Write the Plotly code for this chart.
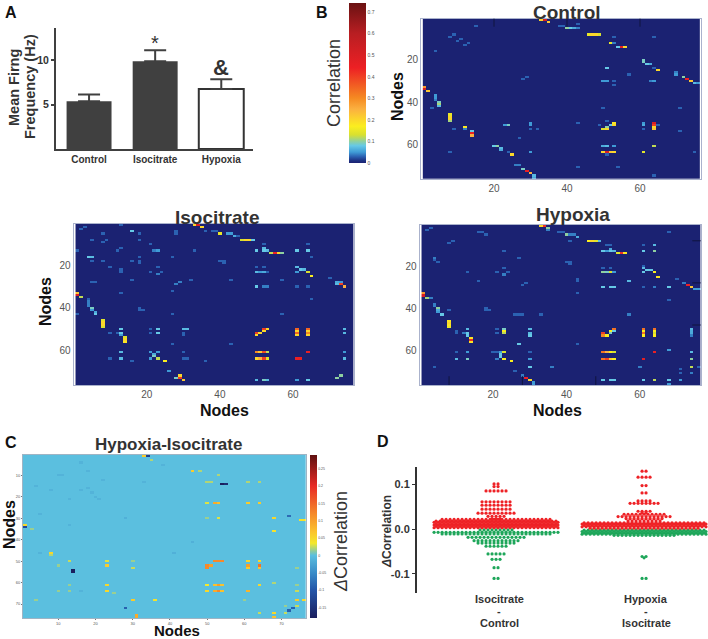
import plotly.graph_objects as go

# panel A
conditions = ["Control", "Isocitrate", "Hypoxia"]
firing_rate = [5.37, 9.85, 6.75]
firing_err = [0.75, 1.25, 1.1]

# panels B and C, cells are (x node, y node, value), everything else is 0
control_cells = [
    (33,1,.2),(34,1,.5),(35,2,.22),(15,4,.03),(38,4,.03),(39,4,.03),(40,5,.1),(41,5,.08),(42,5,.06),(43,5,.04),
    (43,3,.03),(46,8,.15),(47,8,.2),(48,8,.2),(49,8,.13),(8,9,.03),(9,8,.03),(10,11,.03),(11,10,.03),(12,13,.03),
    (13,12,.03),(4,16,.03),(53,9,.03),(64,9,.03),(52,12,.15),(53,12,.04),(54,14,.08),(55,14,.45),(56,14,.2),
    (1,33,.28),(1,34,.5),(2,35,.22),(4,37,.05),(4,38,.05),(4,39,.04),(5,40,.09),(5,41,.11),(5,42,.07),(3,43,.03),
    (8,46,.15),(8,47,.2),(8,48,.2),(8,49,.11),(9,53,.03),(12,52,.18),(12,53,.04),(14,54,.08),(14,55,.45),(14,56,.25),
    (23,51,.05),(24,51,.09),(30,50,.05),(30,51,.05),(30,53,.03),(32,53,.03),(27,57,.03),(20,61,.08),(21,61,.1),
    (22,62,.07),(22,63,.06),(8,64,.03),(24,64,.03),(25,65,.2),(26,70,.04),(27,70,.04),(28,72,.09),(29,73,.45),
    (30,74,.25),(31,75,.07),(31,76,.06),(30,64,.05),(28,29,.03),(29,28,.03),(50,30,.05),(51,30,.05),(51,24,.08),
    (53,30,.03),(53,32,.03),(63,30,.04),(64,30,.05),(57,27,.03),(61,20,.09),(61,21,.09),(62,22,.08),(63,22,.06),
    (64,24,.03),(65,25,.2),(70,26,.04),(70,27,.05),(72,28,.1),(73,29,.45),(74,30,.22),(75,31,.07),(76,31,.05),
    (50,43,.03),(71,43,.03),(71,54,.03),(43,50,.03),(49,51,.03),(51,49,.03),(50,53,.13),(51,53,.2),(51,52,.1),
    (52,51,.08),(53,50,.18),(53,51,.2),(61,50,.05),(61,51,.06),(61,53,.03),(64,50,.5),(64,51,.4),(64,52,.2),
    (64,53,.22),(65,51,.03),(50,61,.06),(51,61,.07),(53,61,.05),(64,61,.12),(50,64,.2),(51,64,.5),(52,64,.22),
    (53,64,.2),(51,65,.03),(61,64,.14),(43,71,.03),(54,71,.03),(64,75,.03),(75,64,.03),
]
isocitrate_cells = [
    (33,1,.2),(34,1,.5),(35,2,.2),(2,3,.03),(3,2,.03),(13,1,.03),(8,5,.03),(16,4,.08),(18,5,.03),(28,4,.03),(28,5,.03),
    (36,4,.03),(38,4,.03),(39,4,.03),(40,5,.15),(42,5,.05),(43,5,.05),(44,6,.06),(45,6,.03),(46,8,.13),(47,8,.2),
    (48,8,.2),(49,8,.08),(5,8,.03),(8,9,.03),(9,8,.03),(18,8,.03),(1,13,.03),(12,13,.03),(13,12,.03),(21,10,.03),
    (22,13,.04),(23,13,.05),(33,13,.03),(50,13,.08),(52,10,.03),(52,12,.07),(52,13,.08),(53,13,.07),(54,14,.12),
    (55,14,.44),(56,14,.2),(57,14,.1),(61,13,.08),(64,13,.08),(64,10,.03),(4,16,.08),(5,16,.07),(5,18,.03),(8,18,.03),
    (16,18,.03),(18,16,.03),(18,18,.03),(18,19,.03),(27,16,.03),(40,18,.03),(41,18,.03),(41,19,.03),(65,16,.03),
    (10,21,.03),(13,22,.03),(13,23,.03),(21,23,.03),(23,21,.03),(23,24,.04),(24,23,.03),(50,21,.03),(50,23,.07),
    (51,23,.05),(52,21,.03),(52,23,.06),(53,23,.03),(61,21,.07),(61,23,.05),(62,22,.08),(63,22,.07),(64,23,.13),
    (65,25,.17),(16,27,.03),(5,28,.03),(6,28,.03),(32,27,.03),(43,27,.03),(57,27,.03),(70,26,.03),(28,29,.04),
    (29,28,.04),(50,30,.08),(52,30,.04),(53,30,.04),(61,30,.03),(64,30,.03),(72,28,.06),(72,29,.07),(73,28,.05),
    (73,29,.4),(74,30,.25),(27,32,.03),(13,33,.03),(1,33,.22),(1,34,.5),(2,35,.12),(4,36,.03),(4,37,.04),(4,38,.04),
    (4,39,.04),(65,36,.03),(5,40,.09),(5,41,.05),(6,42,.06),(6,43,.08),(18,40,.03),(18,41,.03),(19,41,.03),(1,43,.03),
    (27,43,.03),(57,43,.03),(8,46,.14),(8,47,.2),(8,48,.2),(8,49,.13),(10,52,.03),(12,52,.03),(13,50,.08),(13,52,.08),
    (13,53,.05),(14,54,.14),(14,55,.2),(14,56,.18),(21,50,.03),(21,52,.03),(23,50,.08),(23,52,.08),(30,50,.07),
    (31,50,.07),(30,52,.03),(30,53,.03),(50,53,.2),(50,52,.4),(51,52,.2),(52,51,.2),(52,50,.4),(53,50,.2),
    (61,50,.35),(61,51,.2),(61,52,.35),(61,53,.2),(64,50,.35),(64,51,.2),(64,52,.3),(64,53,.2),(74,50,.07),(74,52,.07),
    (27,57,.03),(43,57,.03),(13,61,.07),(13,64,.07),(10,64,.03),(16,65,.03),(21,61,.05),(23,61,.05),(22,62,.06),
    (22,63,.09),(21,64,.05),(23,64,.12),(25,65,.17),(30,61,.03),(30,64,.03),(31,64,.03),(36,65,.03),(50,61,.3),
    (51,61,.22),(52,61,.38),(53,61,.12),(50,64,.2),(51,64,.25),(52,64,.4),(53,64,.14),(61,64,.45),(62,64,.45),
    (64,61,.45),(74,61,.05),(74,64,.07),(26,70,.05),(28,73,.09),(29,72,.2),(29,73,.4),(30,74,.22),(50,74,.07),
    (52,74,.09),(53,74,.07),(61,74,.05),(64,74,.08),(72,73,.1),(73,72,.1),
]
hypoxia_cells = [
    (33,1,.2),(34,1,.42),(35,2,.1),(35,3,.04),(2,3,.03),(3,2,.03),(16,4,.03),(17,4,.03),(18,5,.03),(8,9,.03),(9,8,.03),
    (38,4,.03),(39,4,.03),(40,5,.1),(41,5,.04),(42,5,.04),(43,6,.06),(41,8,.03),(46,8,.17),(47,8,.2),(48,8,.14),
    (49,8,.07),(51,10,.03),(52,10,.03),(50,13,.08),(51,13,.05),(52,12,.06),(52,13,.08),(53,13,.07),(54,14,.14),
    (55,14,.42),(56,14,.18),(61,10,.03),(64,10,.07),(61,13,.08),(64,13,.1),(23,13,.03),(27,16,.03),(4,16,.04),(4,17,.03),
    (5,18,.03),(40,18,.03),(41,18,.03),(41,19,.03),(68,4,.03),(13,23,.03),(21,23,.03),(23,21,.03),(23,24,.04),(24,23,.03),
    (50,21,.03),(52,21,.03),(50,23,.1),(51,23,.09),(52,23,.13),(53,23,.05),(61,20,.03),(61,21,.07),(61,23,.08),(62,22,.08),
    (63,22,.08),(64,23,.17),(65,25,.18),(43,26,.03),(43,27,.03),(16,27,.03),(57,27,.07),(70,26,.03),(72,28,.04),(73,29,.44),
    (74,30,.22),(75,31,.05),(76,31,.05),(28,29,.03),(29,28,.03),(50,30,.08),(52,30,.08),(53,30,.08),(61,30,.03),(64,30,.04),
    (68,30,.08),(43,33,.03),(1,33,.28),(1,34,.5),(2,35,.11),(3,35,.04),(4,38,.04),(4,39,.04),(5,40,.1),(5,41,.06),(5,42,.05),
    (6,43,.08),(68,36,.03),(8,41,.03),(18,40,.03),(18,41,.03),(19,41,.03),(26,43,.03),(27,43,.03),(28,43,.03),(33,43,.03),
    (57,43,.04),(8,46,.18),(8,47,.2),(8,48,.18),(8,49,.15),(10,51,.03),(10,52,.03),(12,52,.04),(13,50,.07),(13,52,.08),
    (13,53,.08),(14,54,.18),(14,55,.42),(14,56,.18),(21,50,.03),(21,52,.03),(23,50,.09),(23,51,.17),(23,52,.12),(30,50,.07),
    (30,52,.07),(30,53,.08),(50,52,.4),(50,53,.3),(51,53,.17),(52,52,.09),(52,51,.17),(53,50,.33),(53,51,.08),
    (61,50,.33),(61,51,.17),(61,52,.33),(61,53,.17),(64,50,.33),(64,51,.17),(64,52,.13),(64,53,.17),(74,50,.07),(74,51,.06),
    (74,52,.06),(74,53,.04),(27,57,.08),(43,57,.03),(10,61,.03),(13,61,.05),(10,64,.07),(13,64,.09),(20,61,.03),(21,61,.03),
    (22,61,.05),(23,61,.13),(22,62,.08),(22,63,.08),(21,64,.04),(23,64,.17),(25,65,.17),(30,61,.03),(30,64,.05),(30,68,.08),
    (36,68,.04),(4,68,.03),(50,61,.33),(51,61,.25),(52,61,.17),(53,61,.13),(50,64,.33),(51,64,.4),(52,64,.22),(53,64,.17),
    (61,64,.48),(64,61,.45),(68,60,.05),(74,61,.07),(74,64,.1),(74,68,.12),(76,68,.03),(26,70,.03),(28,72,.04),(29,73,.44),
    (30,74,.2),(31,75,.05),(31,76,.05),(50,74,.08),(52,74,.08),(53,74,.08),(61,74,.08),(64,74,.12),(68,74,.08),(68,76,.05),
    (71,74,.05),(71,71,.03),(71,69,.03),(74,71,.04),(60,68,.04),
]
delta_cells = [
    (33,1,.06),(34,1,-.13),(35,3,.02),(46,8,.06),(48,8,.02),(50,13,.02),(51,13,.02),(53,10,.02),(54,14,-.18),(55,14,-.16),
    (61,13,.02),(64,13,.02),(50,23,.03),(52,23,.09),(53,23,.07),(61,23,.06),(64,23,.06),(50,30,.015),(53,30,.03),
    (68,30,.05),(72,29,-.08),(75,31,.04),(76,31,.04),(1,33,.05),(1,34,-.12),(3,35,.015),(68,36,.04),(8,46,.05),(8,47,.02),
    (13,50,.025),(23,50,.03),(23,52,.06),(30,50,.015),(30,53,.025),(10,52,.015),(14,54,-.18),(14,55,-.18),(50,52,.12),(50,53,.12),
    (51,52,.1),(52,50,.12),(53,50,.12),(54,50,.12),(61,50,.05),(61,52,.1),(61,53,.06),(64,50,.05),(64,52,.14),(64,53,.07),
    (74,53,.015),(13,61,.015),(23,61,.05),(23,64,.05),(10,64,.015),(13,64,.015),(25,65,.015),(50,61,.035),(50,64,.05),
    (52,61,.07),(53,61,.1),(54,61,.07),(52,64,.09),(53,64,.12),(54,64,.07),(61,64,.08),(64,61,.05),(68,60,.02),(74,61,.015),
    (74,64,.025),(30,68,.06),(36,68,.04),(4,68,.015),(60,68,.015),(74,68,.06),(76,68,.05),(71,71,.015),(28,72,-.09),
    (72,73,-.09),(73,72,-.09),(74,71,.025),(71,74,.025),(68,74,.05),(68,76,.07),(64,74,.025),(31,75,.09),(31,76,.09),
    (16,4,-.012),(18,8,-.012),(10,10,-.012),(11,10,-.012),(22,12,-.012),(4,15,-.012),(8,17,-.012),(16,17,-.012),(18,16,-.012),
    (19,18,-.012),(13,21,-.012),(21,21,-.012),(20,20,-.012),(5,28,-.012),(28,30,-.015),(13,33,-.012),(46,41,-.015),(41,46,-.015),
    (5,46,-.012),(16,64,-.012),(38,5,-.012),(33,13,-.012),
]

# panel D, swarm rows: level of the row and number of nodes in it
iso_red_levels = [.1014,.0955,.0858,.0615,.054,.045,.036,.029,.0235,.022,.0185,.0155,.0125,.0095,.0065,.0035]
iso_red_counts = [2,2,6,8,8,8,10,5,3,28,31,32,31,32,31,32]
iso_green_levels = [-.0016,-.0068,-.0105,-.018,-.0255,-.031,-.038,-.0553,-.0672,-.086,-.11]
iso_green_counts = [9,32,28,15,12,10,6,5,3,2,2]
hyp_red_levels = [.13,.1165,.0977,.0813,.0634,.058,.0403,.037,.0336,.0283,.024,.0186,.0145,.0115,.0085,.0055,.0025]
hyp_red_counts = [2,4,2,2,4,8,4,2,11,14,10,9,31,32,31,32,28]
hyp_green_levels = [-.002,-.005,-.008,-.011,-.0135,-.061,-.064,-.11]
hyp_green_counts = [31,32,31,32,16,2,1,2]
swarm_labels = [["Isocitrate", "-", "Control"], ["Hypoxia", "-", "Isocitrate"]]

W, H = 708, 639
NODES = list(range(1, 77))
FONT = "Liberation Sans"


def dom_x(a, b):
    return [a / W, b / W]


def dom_y(a, b):
    return [1 - b / H, 1 - a / H]


def grid(cells):
    z = [[0.0] * 76 for _ in NODES]
    for x, y, v in cells:
        z[y - 1][x - 1] = v
    return z


corr_stops = [(0, "#1b2272"), (.01, "#1c2f80"), (.03, "#2b62b2"), (.05, "#3f9bd6"), (.08, "#66c9e6"), (.1, "#8fd0a0"),
              (.13, "#d8e030"), (.17, "#fbee1f"), (.25, "#fbb040"), (.3, "#f58a22"), (.44, "#ed2024"), (.6, "#b81e22"),
              (.74, "#6a1212")]
delta_stops = [(-.18, "#1b1f5e"), (-.1, "#2455a8"), (-.05, "#3a8cc8"), (0, "#5bbfdf"), (.012, "#8ccba0"), (.035, "#f4e82a"),
               (.07, "#fbc02d"), (.12, "#f5892a"), (.2, "#e82a25"), (.289, "#5e1010")]


def scale(stops):
    lo, hi = stops[0][0], stops[-1][0]
    return [[(v - lo) / (hi - lo), c] for v, c in stops]


fig = go.Figure()

# A: bars
fig.add_trace(go.Bar(x=conditions, y=firing_rate, width=0.68,
                     marker=dict(color=["#404040", "#404040", "white"], line=dict(color="#333333", width=[0, 0, 2])),
                     error_y=dict(type="data", symmetric=False, array=firing_err, arrayminus=[0, 0, 0],
                                  color="#404040", thickness=2, width=11),
                     xaxis="x", yaxis="y", showlegend=False))

# B and C: heatmaps
panels = [("x2", "y2", control_cells, "coloraxis"), ("x3", "y3", isocitrate_cells, "coloraxis"),
          ("x4", "y4", hypoxia_cells, "coloraxis"), ("x5", "y5", delta_cells, "coloraxis2")]
for xa, ya, cells, ca in panels:
    fig.add_trace(go.Heatmap(x=NODES, y=NODES, z=grid(cells), coloraxis=ca, xaxis=xa, yaxis=ya))


# D: swarm, every row is centred on its group
def swarm(center, levels, counts, color, xa="x6", ya="y6"):
    xs, ys = [], []
    for level, n in zip(levels, counts):
        for i in range(n):
            xs.append(center + (i - (n - 1) / 2) * 0.027)
            ys.append(level)
    fig.add_trace(go.Scatter(x=xs, y=ys, mode="markers", marker=dict(color=color, size=3.2), xaxis=xa, yaxis=ya,
                             showlegend=False))


swarm(0, iso_green_levels, iso_green_counts, "#1ea65a")
swarm(1, hyp_green_levels, hyp_green_counts, "#1ea65a")
swarm(0, iso_red_levels, iso_red_counts, "#ee2226")
swarm(1, hyp_red_levels, hyp_red_counts, "#ee2226")

heat_axis = dict(tickvals=[20, 40, 60], ticks="", tickfont=dict(size=10, color="#555555", family=FONT),
                 showgrid=False, zeroline=False, showline=True, linecolor="#aab2cc", linewidth=1, mirror=True)
delta_axis = dict(tickvals=[10, 20, 30, 40, 50, 60, 70], ticks="outside", ticklen=1, tickcolor="#777777",
                  tickfont=dict(size=4, color="#555555", family=FONT), showgrid=False, zeroline=False,
                  showline=True, linecolor="#9fb4c4", linewidth=1, mirror=True)

fig.update_layout(
    width=W, height=H, margin=dict(l=0, r=0, t=0, b=0), paper_bgcolor="white", plot_bgcolor="white",
    font=dict(family=FONT, color="#333333"), showlegend=False,
    xaxis=dict(domain=dom_x(56, 253), range=[-0.5, 2.48], ticks="", showline=True, linecolor="#404040", linewidth=2,
               tickvals=conditions, ticktext=[f"<b>{c}</b>" for c in conditions],
               tickfont=dict(size=10, color="#333333"), showgrid=False, zeroline=False),
    yaxis=dict(domain=dom_y(28, 149), range=[0, 13.6], tickvals=[5, 10], ticktext=["<b>5</b>", "<b>10</b>"],
               ticks="outside", ticklen=3, tickwidth=1.5, tickcolor="#404040", showline=True, linecolor="#404040",
               linewidth=2, showgrid=False, zeroline=False, tickfont=dict(size=10.5, color="#333333")),
    xaxis2=dict(heat_axis, domain=dom_x(421, 700.6), range=[0, 76.6], anchor="y2"),
    yaxis2=dict(heat_axis, domain=dom_y(18.7, 179), range=[76.5, .5], anchor="x2"),
    xaxis3=dict(heat_axis, domain=dom_x(73.7, 353.7), range=[0, 76.6], anchor="y3"),
    yaxis3=dict(heat_axis, domain=dom_y(224, 385), range=[76.5, .5], anchor="x3"),
    xaxis4=dict(heat_axis, domain=dom_x(419.7, 700.7), range=[0, 76.6], anchor="y4"),
    yaxis4=dict(heat_axis, domain=dom_y(225, 385), range=[76.5, .5], anchor="x4"),
    xaxis5=dict(delta_axis, domain=dom_x(23, 305.7), range=[.5, 76.5], anchor="y5"),
    yaxis5=dict(delta_axis, domain=dom_y(455, 618), range=[76.5, .5], anchor="x5"),
    xaxis6=dict(domain=dom_x(416.7, 708), range=[-0.536, 1.432], visible=False, anchor="y6"),
    yaxis6=dict(domain=dom_y(466.7, 592.7), range=[-.142, .140], tickvals=[-.1, 0, .1],
                ticktext=["<b>-0.1</b>", "<b>0.0</b>", "<b>0.1</b>"], ticks="outside", ticklen=3, tickcolor="#333333",
                showline=True, linecolor="#333333", linewidth=1.5, showgrid=False, zeroline=False, anchor="x6",
                tickfont=dict(size=11, color="#333333")),
    coloraxis=dict(colorscale=scale(corr_stops), cmin=0, cmax=.74, colorbar=dict(
        x=349 / W, xanchor="left", y=1 - 3.3 / H, yanchor="top", lenmode="pixels", len=160, thicknessmode="pixels",
        thickness=17, outlinewidth=0, ypad=0, xpad=0, tickvals=[0, .1, .2, .3, .4, .5, .6, .7], ticks="",
        ticktext=["0", "0.1", "0.2", "0.3", "0.4", "0.5", "0.6", "0.7"], tickfont=dict(size=5, color="#555555"))),
    coloraxis2=dict(colorscale=scale(delta_stops), cmin=-.18, cmax=.289, colorbar=dict(
        x=310 / W, xanchor="left", y=1 - 455 / H, yanchor="top", lenmode="pixels", len=163, thicknessmode="pixels",
        thickness=7, outlinewidth=0, ypad=0, xpad=0, tickvals=[-.15, -.1, -.05, 0, .05, .1, .15, .2, .25], ticks="",
        ticktext=["-0.15", "-0.1", "-0.05", "0", "0.05", "0.1", "0.15", "0.2", "0.25"],
        tickfont=dict(size=3.5, color="#555555"))),
)

# stray dark tick marks left over in the matrices
for val in [20, 40, 60]:
    fig.add_shape(type="line", xref="x2", yref="y2 domain", x0=val, x1=val, y0=1, y1=0.95,
                  line=dict(color="#10143f", width=1))
for val in [8, 28, 48]:
    fig.add_shape(type="line", xref="x4", yref="y4 domain", x0=val, x1=val, y0=0, y1=0.055,
                  line=dict(color="#10143f", width=1))
    fig.add_shape(type="line", xref="x4 domain", yref="y4", x0=1, x1=0.97, y0=val, y1=val,
                  line=dict(color="#10143f", width=1))


def label(text, px, py, size, bold=True, angle=0, color="#333333"):
    fig.add_annotation(text=f"<b>{text}</b>" if bold else text, x=px / W, y=1 - py / H, xref="paper", yref="paper",
                       showarrow=False, textangle=angle, font=dict(size=size, color=color, family=FONT),
                       xanchor="center", yanchor="middle")


for t, px, py in [("A", 11, 12), ("B", 322, 12), ("C", 11, 442), ("D", 383, 441)]:
    label(t, px, py, 16, color="#111111")

label("Mean Firng", 14, 88, 14.5, angle=-90)
label("Frequency (Hz)", 30, 87, 14.5, angle=-90)
label("*", 155, 43, 20, bold=False)
label("&", 221, 68, 22)

label("Control", 567, 12, 19)
label("Isocitrate", 217, 217, 19)
label("Hypoxia", 573, 215, 19)
label("Hypoxia-Isocitrate", 168, 444, 17)
label("Correlation", 334, 83, 18, bold=False, angle=-90)
label("<i>Δ</i>Correlation", 341, 542, 18, bold=False, angle=-90)
label("Nodes", 398, 97, 16, angle=-90, color="#111111")
label("Nodes", 46, 302, 16, angle=-90, color="#111111")
label("Nodes", 224, 410, 16, color="#111111")
label("Nodes", 557, 410, 16, color="#111111")
label("Nodes", 9, 525, 16, angle=-90, color="#111111")
label("Nodes", 177, 630, 15, color="#111111")
label("<i>Δ</i>Correlation", 387, 532, 12, angle=-90)

for px, lines in zip([499, 646], swarm_labels):
    for py, line in zip([599, 611, 623], lines):
        label(line, px, py, 11)

fig.write_html("out.html", config={"displayModeBar": False}, post_script="document.body.style.margin='0';")
